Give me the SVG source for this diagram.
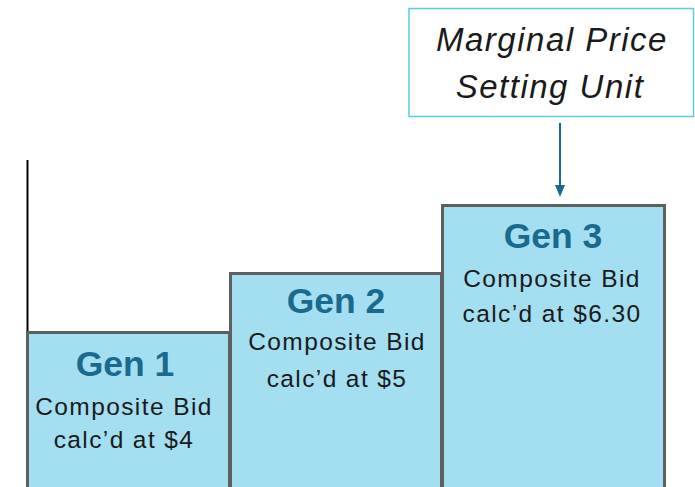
<svg xmlns="http://www.w3.org/2000/svg" width="695" height="487" viewBox="0 0 695 487">
<style>
.bar{fill:#a3dff1;stroke:#5f5f5f;stroke-width:3}
.gen{font-family:"Liberation Sans",Arial,sans-serif;font-weight:bold;font-size:35.5px;fill:#1a6a8e;text-anchor:middle}
.body{font-family:"Liberation Sans",Arial,sans-serif;font-size:24.5px;fill:#1a1a1a;text-anchor:middle;letter-spacing:1.4px}
.lbl{font-family:"Liberation Sans",Arial,sans-serif;font-style:italic;font-size:33px;fill:#1a1a1a;text-anchor:middle;letter-spacing:1.5px}
.conn{stroke:#1a6a8e;stroke-width:2;fill:none}
</style>
<rect width="695" height="487" fill="#ffffff"/>
<line x1="27.5" y1="160" x2="27.5" y2="487" stroke="#000" stroke-width="2"/>
<g id="gen1">
<rect class="bar" x="27.5" y="332.5" width="202" height="160"/>
<text class="gen" x="125" y="376">Gen 1</text>
<text class="body" x="124" y="415">Composite Bid</text>
<text class="body" x="124" y="448">calc’d at $4</text>
</g>
<g id="gen2">
<rect class="bar" x="230.5" y="273.5" width="211" height="220"/>
<text class="gen" x="336" y="313">Gen 2</text>
<text class="body" x="337" y="350">Composite Bid</text>
<text class="body" x="337" y="387">calc’d at $5</text>
</g>
<g id="gen3">
<rect class="bar" x="442.5" y="205.5" width="222" height="290"/>
<text class="gen" x="553" y="248">Gen 3</text>
<text class="body" x="552" y="287">Composite Bid</text>
<text class="body" x="552" y="322">calc’d at $6.30</text>
</g>
<g id="label">
<rect x="409" y="8.5" width="284.5" height="108" fill="#fff" stroke="#5cc9e2" stroke-width="1.5"/>
<text class="lbl" x="552" y="51">Marginal Price</text>
<text class="lbl" x="550" y="98">Setting Unit</text>
</g>
<g id="connectors">
<line class="conn" x1="560" y1="123" x2="560" y2="186"/>
<path d="M555,185 L565,185 L560,197 Z" fill="#1a6a8e"/>
</g>
</svg>
